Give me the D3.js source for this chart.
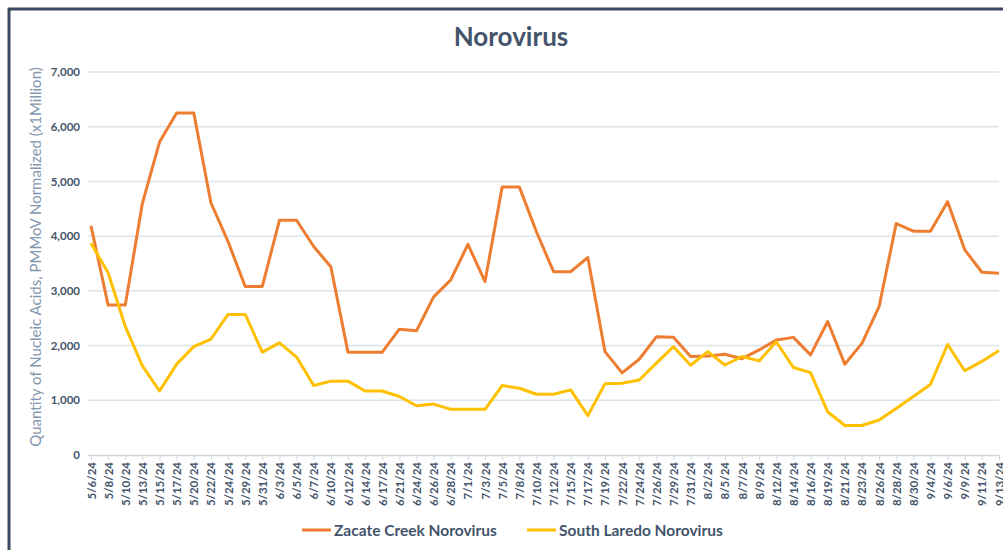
<!DOCTYPE html>
<html>
<head>
<meta charset="utf-8">
<script src="https://cdn.jsdelivr.net/npm/d3@7"></script>
<style>
  body { margin: 0; background: #fff; }
  svg { font-family: Lato, "Open Sans", sans-serif; }
</style>
</head>
<body>
<svg width="1003" height="550"></svg>
<script>
// Sample dates
var dates = ["5/6/24","5/8/24","5/10/24","5/13/24","5/15/24","5/17/24","5/20/24","5/22/24","5/24/24","5/29/24","5/31/24",
  "6/3/24","6/5/24","6/7/24","6/10/24","6/12/24","6/14/24","6/17/24","6/21/24","6/24/24","6/26/24","6/28/24",
  "7/1/24","7/3/24","7/5/24","7/8/24","7/10/24","7/12/24","7/15/24","7/17/24","7/19/24","7/22/24","7/24/24","7/26/24","7/29/24","7/31/24",
  "8/2/24","8/5/24","8/7/24","8/9/24","8/12/24","8/14/24","8/16/24","8/19/24","8/21/24","8/23/24","8/26/24","8/28/24","8/30/24",
  "9/4/24","9/6/24","9/9/24","9/11/24","9/13/24"];

// Series values
var zacate = [4190,2740,2740,4600,5720,6250,6250,4610,3900,3080,3080,
  4290,4290,3810,3440,1880,1880,1880,2300,2270,2890,3200,
  3850,3170,4900,4900,4080,3350,3350,3610,1890,1500,1750,2160,2150,1800,
  1810,1840,1760,1920,2100,2150,1830,2440,1660,2040,2710,4230,4090,
  4090,4630,3750,3340,3320];
var southLaredo = [3870,3330,2350,1630,1170,1660,1980,2120,2570,2570,1880,
  2050,1790,1270,1350,1350,1170,1170,1070,900,930,835,
  835,835,1270,1220,1110,1110,1190,720,1300,1310,1370,1680,1980,1640,
  1890,1645,1800,1720,2070,1600,1505,790,540,540,640,850,1070,
  1290,2020,1540,1710,1910];

var yTicks = [0,1000,2000,3000,4000,5000,6000,7000];
var seriesNames = ["Zacate Creek Norovirus", "South Laredo Norovirus"];
var colors = ["#ED7D31", "#FFC000"];

var svg = d3.select("svg");
var textColor = "#44546A";

// frame
svg.append("line").attr("x1", 8).attr("x2", 1003).attr("y1", 9).attr("y2", 9)
  .style("stroke", "#3B4A63").style("stroke-width", 3);
svg.append("line").attr("x1", 9).attr("x2", 9).attr("y1", 8).attr("y2", 550)
  .style("stroke", "#3B4A63").style("stroke-width", 3);

// scales
var x = d3.scalePoint().domain(dates).range([91, 999]);
var y = d3.scaleLinear().domain([0, 7000]).range([455, 72]);

// gridlines
svg.append("g")
  .selectAll("line")
  .data(yTicks.filter(d => d > 0))
  .enter().append("line")
  .attr("x1", 88).attr("x2", 999)
  .attr("y1", d => y(d)).attr("y2", d => y(d))
  .style("stroke", "#DCE3EB").style("stroke-width", 1.5);

// y axis labels
var yAxis = svg.append("g")
  .attr("transform", "translate(80,0)")
  .call(d3.axisLeft(y).tickValues(yTicks).tickSize(0).tickPadding(0).tickFormat(d3.format(",")));
yAxis.select(".domain").remove();
yAxis.selectAll("text")
  .style("font-size", "11.5px").style("font-weight", "bold").style("fill", textColor)
  .style("font-family", "Lato, sans-serif");

// x axis
var xAxis = svg.append("g")
  .attr("transform", "translate(0,455)")
  .call(d3.axisBottom(x).tickSize(5).tickPadding(0));
xAxis.select(".domain").attr("d", "M88,0.5H999").style("stroke", "#D0D7E0").style("stroke-width", 1.5);
xAxis.selectAll(".tick line").style("stroke", "#D0D7E0").style("stroke-width", 1);
xAxis.selectAll("text")
  .attr("transform", "rotate(-90)")
  .attr("x", -7).attr("y", 0).attr("dy", "0.35em")
  .style("text-anchor", "end")
  .style("font-size", "11.5px").style("font-weight", "bold").style("fill", textColor)
  .style("font-family", "Lato, sans-serif");

// lines
var line = d3.line()
  .x((d, i) => x(dates[i]))
  .y(d => y(d));

[zacate, southLaredo].forEach(function(s, k) {
  svg.append("path")
    .datum(s)
    .attr("d", line)
    .style("fill", "none")
    .style("stroke", colors[k])
    .style("stroke-width", 3)
    .style("stroke-linejoin", "round");
});

// title
svg.append("text")
  .attr("x", 511).attr("y", 46)
  .attr("text-anchor", "middle")
  .style("font-size", "26px").style("font-weight", "bold").style("fill", textColor)
  .text("Norovirus");

// y title
svg.append("text")
  .attr("transform", "translate(41,257) rotate(-90)")
  .attr("text-anchor", "middle")
  .style("font-size", "15px").style("fill", "#8497B0")
  .text("Quantity of Nucleic Acids, PMMoV Normalized (x1Million)");

// legend
var legendX = [302, 527];
seriesNames.forEach(function(n, k) {
  svg.append("line")
    .attr("x1", legendX[k]).attr("x2", legendX[k] + 29)
    .attr("y1", 530).attr("y2", 530)
    .style("stroke", colors[k]).style("stroke-width", 3);
  svg.append("text")
    .attr("x", legendX[k] + 32).attr("y", 535.5)
    .style("font-size", "15.5px").style("font-weight", "bold").style("fill", textColor)
    .text(n);
});
</script>
</body>
</html>
